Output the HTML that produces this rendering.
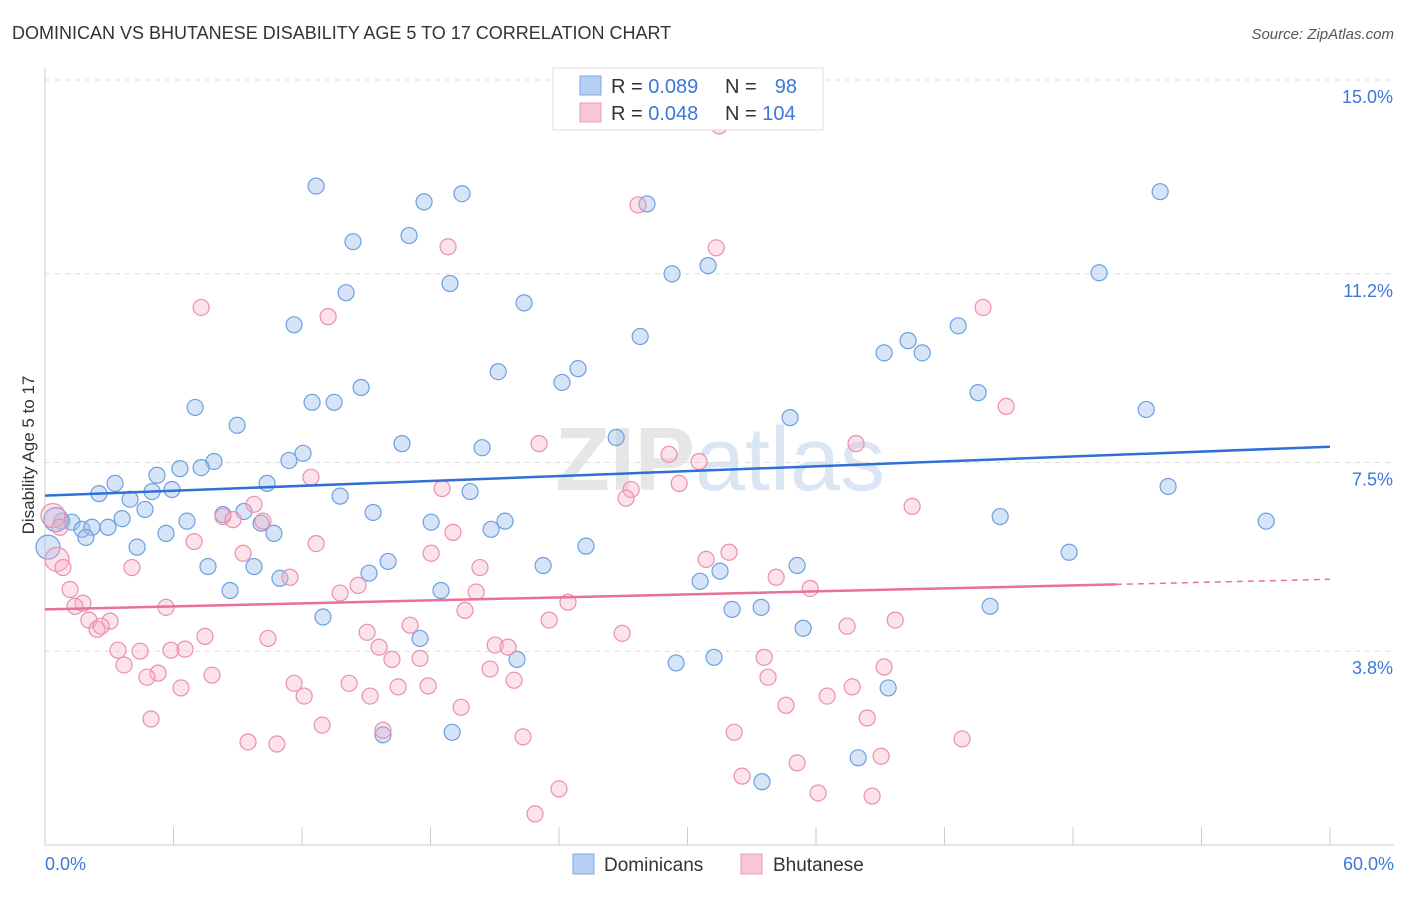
<!DOCTYPE html>
<html><head><meta charset="utf-8"><style>
body{margin:0;background:#fff;font-family:"Liberation Sans",sans-serif;}
svg text{font-family:"Liberation Sans",sans-serif;}
</style></head><body>
<svg id="chart" width="1406" height="892">
<text x="12" y="39" font-size="18" fill="#333">DOMINICAN VS BHUTANESE DISABILITY AGE 5 TO 17 CORRELATION CHART</text>
<text x="1394" y="39" font-size="15" fill="#555" font-style="italic" text-anchor="end">Source: ZipAtlas.com</text>
<text x="720" y="490" font-size="90" fill="#e6e6e6" text-anchor="middle" font-weight="bold">ZIP<tspan fill="#dbe6f5" font-weight="normal">atlas</tspan></text>
<g id="grid"></g><g id="axes"></g><g id="pts"></g><g id="lines"></g>
<text x="34" y="455" font-size="17" fill="#333" text-anchor="middle" transform="rotate(-90 34 455)">Disability Age 5 to 17</text>
<text x="45" y="870" font-size="18" fill="#3b78d8">0.0%</text>
<text x="1394" y="870" font-size="18" fill="#3b78d8" text-anchor="end">60.0%</text>
<g>
<rect x="553" y="68" width="270" height="62" fill="#fff" stroke="#ddd"/>
<rect x="580" y="76" width="21" height="19" fill="#b7d1f5" stroke="#7aa7e6"/>
<rect x="580" y="103" width="21" height="19" fill="#f8c6d5" stroke="#ee9ab5"/>
<text x="611" y="93" font-size="20" fill="#333">R = <tspan fill="#3b78d8">0.089</tspan></text>
<text x="725" y="93" font-size="20" fill="#333">N =</text>
<text x="797" y="93" font-size="20" fill="#3b78d8" text-anchor="end">98</text>
<text x="611" y="120" font-size="20" fill="#333">R = <tspan fill="#3b78d8">0.048</tspan></text>
<text x="725" y="120" font-size="20" fill="#333">N = <tspan fill="#3b78d8">104</tspan></text>
</g>
<g>
<rect x="573" y="854" width="21" height="20" fill="#b7d1f5" stroke="#7aa7e6"/>
<text x="604" y="871" font-size="19" fill="#333">Dominicans</text>
<rect x="741" y="854" width="21" height="20" fill="#f8c6d5" stroke="#ee9ab5"/>
<text x="773" y="871" font-size="19" fill="#333">Bhutanese</text>
</g>
</svg>
<script>
const yTicks=[15.0,11.2,7.5,3.8];
const yTickLabels=["15.0%","11.2%","7.5%","3.8%"];
const xTicks=[0,6,12,18,24,30,36,42,48,54,60];
const blueX=[12.66,17.70,19.47,28.11,52.07,14.38,17.00,29.28,30.96,49.22,14.06,18.91,22.37,11.63,27.79,39.18,40.30,40.96,42.64,21.16,24.14,24.89,14.76,12.47,13.50,7.01,43.57,51.42,34.79,8.97,16.67,20.41,26.67,12.05,11.39,7.89,6.30,7.29,5.23,3.27,2.52,5.00,5.93,10.37,13.78,19.85,52.44,3.97,4.67,15.32,9.29,8.31,10.09,3.60,6.63,0.79,1.26,0.51,1.73,2.19,2.94,1.91,5.65,10.69,18.03,21.48,20.83,44.60,57.02,4.30,25.26,0.14,47.82,7.61,9.76,15.13,16.02,23.26,35.12,31.52,30.59,10.97,8.64,18.49,32.08,33.44,44.13,12.98,35.40,17.51,22.04,29.47,31.24,39.37,15.78,19.01,33.48,37.97];
const blueY=[12.92,12.61,12.77,12.57,12.81,11.83,11.95,11.20,11.36,11.22,10.83,11.01,10.63,10.20,9.97,9.65,9.89,9.65,10.18,9.28,9.07,9.34,8.97,8.68,8.68,8.58,8.87,8.54,8.38,8.23,7.87,7.79,7.99,7.68,7.54,7.52,7.38,7.40,7.25,7.09,6.89,6.93,6.97,7.09,6.84,6.93,7.03,6.78,6.58,6.52,6.54,6.48,6.31,6.40,6.35,6.35,6.33,6.38,6.19,6.23,6.23,6.03,6.11,6.11,6.33,6.35,6.19,6.44,6.35,5.84,5.86,5.84,5.74,5.46,5.46,5.33,5.56,5.48,5.48,5.37,5.17,5.23,4.99,4.99,4.62,4.66,4.68,4.47,4.25,4.05,3.64,3.57,3.68,3.08,2.16,2.21,1.24,1.71];
const pinkX=[31.48,27.69,18.82,31.34,7.29,13.22,43.80,44.88,23.07,37.87,29.14,30.54,12.42,29.61,18.54,27.37,27.13,9.76,40.49,8.31,8.78,10.18,0.37,0.70,19.05,6.96,12.66,9.25,18.03,30.87,31.94,0.56,0.84,4.06,20.31,11.44,34.14,14.62,35.73,13.78,20.13,1.17,1.77,1.40,5.65,19.61,24.42,2.05,3.04,2.43,2.62,23.54,17.05,39.70,37.45,7.47,10.41,15.04,26.95,15.60,21.02,21.62,4.44,3.41,5.88,6.54,17.51,16.20,33.58,3.69,20.78,39.18,5.28,4.76,7.80,33.76,11.63,14.20,21.90,6.35,16.49,17.89,37.69,12.10,15.18,36.52,34.60,19.43,4.95,38.39,12.94,15.78,32.18,22.32,42.82,9.48,10.83,39.04,35.12,32.55,24.00,36.10,38.62,22.88];
const pinkY=[14.10,12.55,11.73,11.71,10.54,10.36,10.54,8.60,7.87,7.87,7.66,7.52,7.21,7.09,6.99,6.97,6.80,6.68,6.64,6.44,6.38,6.35,6.46,6.23,6.13,5.95,5.91,5.72,5.72,5.60,5.74,5.60,5.44,5.44,5.44,5.25,5.25,5.09,5.03,4.94,4.96,5.01,4.74,4.68,4.66,4.60,4.76,4.41,4.39,4.23,4.29,4.41,4.31,4.41,4.29,4.09,4.05,4.17,4.15,3.88,3.92,3.88,3.80,3.82,3.82,3.84,3.66,3.64,3.68,3.53,3.45,3.49,3.37,3.29,3.33,3.29,3.17,3.17,3.23,3.08,3.10,3.12,3.10,2.92,2.92,2.92,2.74,2.70,2.47,2.49,2.35,2.25,2.21,2.12,2.08,2.02,1.98,1.74,1.61,1.35,1.10,1.02,0.96,0.61];
const blueTrend=[6.85,7.81];
const pinkTrend=[4.62,5.11,5.21];
const pinkSolidEnd=50;

const NS="http://www.w3.org/2000/svg";
const X0=45,X1=1330,Y0=845,Y15=80;
function sx(v){return X0+(v/60)*(X1-X0);}
function sy(v){return Y15+(15-v)*(Y0-Y15)/15;}
function mk(tag,attrs,parent){const e=document.createElementNS(NS,tag);for(const k in attrs)e.setAttribute(k,attrs[k]);document.getElementById(parent).appendChild(e);return e;}

yTicks.forEach((t,i)=>{
  const l=mk('line',{x1:X0,x2:1394,y1:sy(t),y2:sy(t),stroke:'#ddd','stroke-dasharray':'5,5'},'grid');
  
  
  const tx=mk('text',{x:1393,y:sy(t)+23,'font-size':18,fill:'#3b78d8','text-anchor':'end'},'grid');
  tx.textContent=yTickLabels[i];
  
  
});
const ya=mk('line',{x1:X0,x2:X0,y1:68,y2:Y0,stroke:'#ccc'},'axes');


const xa=mk('line',{x1:X0,x2:1394,y1:Y0,y2:Y0,stroke:'#ccc'},'axes');


xTicks.forEach(t=>{
  const l=mk('line',{x1:sx(t),x2:sx(t),y1:Y0,y2:Y0-18,stroke:'#ccc'},'axes');
  
  
});
function pts(xs,ys,fill,stroke,name){
  xs.forEach((x,i)=>{
    let r=8;
    if(x<0.6&&ys[i]>5.5){r=12;}
    const c=mk('circle',{cx:sx(x),cy:sy(ys[i]),r:r,fill:fill,stroke:stroke,'stroke-width':1.2},'pts');
    
    
  });
}
pts(blueX,blueY,'rgba(164,196,240,0.45)','#6d9fe0','dominican-point');
pts(pinkX,pinkY,'rgba(245,175,198,0.35)','#eb8fac','bhutanese-point');
const bl=mk('line',{x1:sx(0),y1:sy(blueTrend[0]),x2:sx(60),y2:sy(blueTrend[1]),stroke:'#2f6fd6','stroke-width':2.5},'lines');


const pl=mk('line',{x1:sx(0),y1:sy(pinkTrend[0]),x2:sx(pinkSolidEnd),y2:sy(pinkTrend[1]),stroke:'#e8709a','stroke-width':2.5},'lines');


const pd=mk('line',{x1:sx(pinkSolidEnd),y1:sy(pinkTrend[1]),x2:sx(60),y2:sy(pinkTrend[2]),stroke:'#e8709a','stroke-width':1.5,'stroke-dasharray':'6,5'},'lines');


</script>
</body></html>
